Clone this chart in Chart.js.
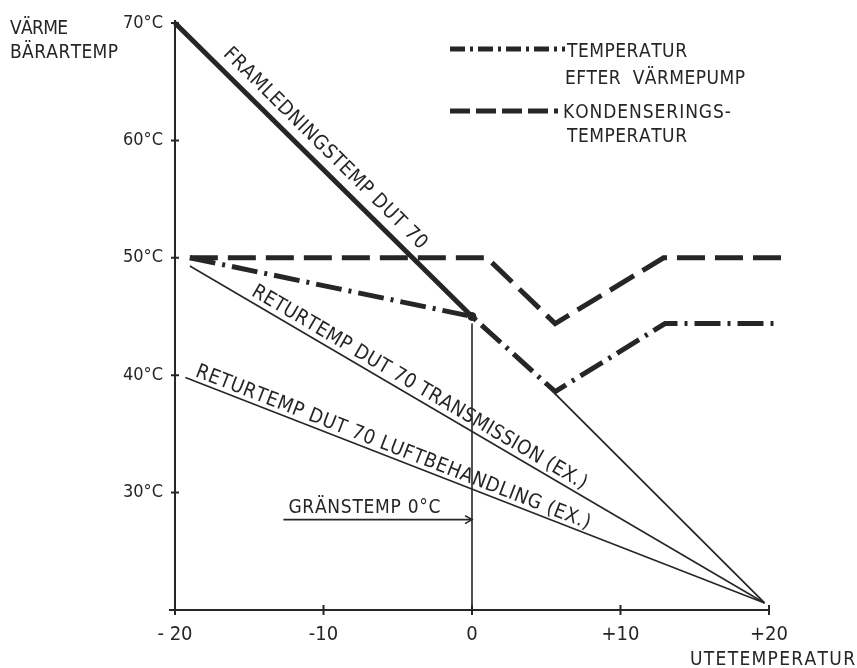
<!DOCTYPE html>
<html>
<head>
<meta charset="utf-8">
<script src="https://cdn.jsdelivr.net/npm/chart.js@4.4.1/dist/chart.umd.min.js"></script>
<style>
  html, body { margin: 0; padding: 0; background: #ffffff; }
  canvas { display: block; }
</style>
</head>
<body>
<canvas id="chart" width="857" height="668"></canvas>
<script>
const INK = '#262626';
const FONT = '"DejaVu Sans Condensed", "DejaVu Sans", sans-serif';

// Axis ticks
const outdoorTicks = [-20, -10, 0, 10, 20];
const outdoorTickLabels = ['- 20', '-10', '0', '+10', '+20'];
const heatTicks = [20, 30, 40, 50, 60, 70];
const heatTickLabels = ['', '30°C', '40°C', '50°C', '60°C', '70°C'];

// Supply temperature, DUT 70 (heavy part down to the limit temperature)
const supplyX = [-20, 0];
const supplyY = [70, 45];
const supplyTailX = [5.6, 19.7];
const supplyTailY = [38.4, 20.6];

// Return temperatures
const returnTransX = [-19, 19.7];
const returnTransY = [49.3, 20.6];
const returnAirX = [-19.3, 19.7];
const returnAirY = [39.8, 20.6];

// Temperature after heat pump (dash-dot)
const afterPumpX = [-19, 0, 5.6, 13, 20.4];
const afterPumpY = [50, 45, 38.6, 44.4, 44.4];

// Condensing temperature (dashed)
const condensX = [-19, 1, 5.6, 12.9, 21.2];
const condensY = [50, 50, 44.4, 50, 50];

// Limit temperature 0°C
const limitX = [0, 0];
const limitY = [44.4, 20];
const arrowX = [-12.7, 0];
const arrowY = [27.7, 27.7];
const junctionX = [0];
const junctionY = [45];

const pts = (xs, ys) => xs.map((x, i) => ({ x, y: ys[i] }));

function line(xs, ys, width, dash) {
  return {
    data: pts(xs, ys),
    borderColor: INK,
    borderWidth: width,
    borderDash: dash || [],
    borderCapStyle: 'butt',
    borderJoinStyle: 'miter',
    pointRadius: 0,
    tension: 0,
    fill: false,
    clip: false
  };
}

// Letter-tracked text, fitted to a given width; y is the cap-height centre
function drawTracked(ctx, text, x, y, width, size) {
  ctx.font = size + 'px ' + FONT;
  ctx.textBaseline = 'alphabetic';
  ctx.textAlign = 'left';
  const chars = Array.from(text);
  const w = chars.map(c => ctx.measureText(c).width);
  const natural = w.reduce((a, b) => a + b, 0);
  const extra = chars.length > 1 ? (width - natural) / (chars.length - 1) : 0;
  let cx = x;
  const base = y + size * 0.36;
  chars.forEach((c, i) => {
    ctx.fillText(c, cx, base);
    cx += w[i] + extra;
  });
}

// Text running along a straight line, offset to its upper side
function lineLabel(ctx, chart, xs, ys, text, startPx, endPx, offset, size) {
  const sx = chart.scales.x, sy = chart.scales.y;
  const x0 = sx.getPixelForValue(xs[0]), y0 = sy.getPixelForValue(ys[0]);
  const x1 = sx.getPixelForValue(xs[xs.length - 1]), y1 = sy.getPixelForValue(ys[ys.length - 1]);
  const ang = Math.atan2(y1 - y0, x1 - x0);
  const ux = Math.cos(ang), uy = Math.sin(ang);
  const nx = uy, ny = -ux;
  ctx.save();
  ctx.translate(x0 + ux * startPx + nx * offset, y0 + uy * startPx + ny * offset);
  ctx.rotate(ang);
  drawTracked(ctx, text, 0, 0, endPx - startPx, size);
  ctx.restore();
}

const annotations = {
  id: 'annotations',
  afterDraw(chart) {
    const ctx = chart.ctx;
    const sx = chart.scales.x, sy = chart.scales.y;
    const area = chart.chartArea;
    ctx.save();
    ctx.fillStyle = INK;
    ctx.strokeStyle = INK;

    // axis overshoot and crossing tick marks
    ctx.lineWidth = 2;
    ctx.beginPath();
    ctx.moveTo(area.left, area.top - 3);
    ctx.lineTo(area.left, area.bottom + 4);
    ctx.moveTo(area.left - 6, area.bottom);
    ctx.lineTo(area.left, area.bottom);
    heatTicks.forEach(v => {
      const p = sy.getPixelForValue(v);
      ctx.moveTo(area.left - 4, p);
      ctx.lineTo(area.left + 4, p);
    });
    outdoorTicks.forEach(v => {
      const p = sx.getPixelForValue(v);
      ctx.moveTo(p, area.bottom - 5);
      ctx.lineTo(p, area.bottom + 5);
    });
    ctx.stroke();

    // axis titles
    drawTracked(ctx, 'VÄRME', 10, 27, 58, 19);
    drawTracked(ctx, 'BÄRARTEMP', 10, 51, 108, 19);
    drawTracked(ctx, 'UTETEMPERATUR', 690, 658, 165, 19);

    // legend
    ctx.lineWidth = 5;
    ctx.setLineDash([15, 5, 3, 5]);
    ctx.beginPath();
    ctx.moveTo(450, 49); ctx.lineTo(565, 49);
    ctx.stroke();
    ctx.setLineDash([20, 6]);
    ctx.beginPath();
    ctx.moveTo(450, 111); ctx.lineTo(558, 111);
    ctx.stroke();
    ctx.setLineDash([]);
    drawTracked(ctx, 'TEMPERATUR', 567, 50, 120, 19);
    drawTracked(ctx, 'EFTER  VÄRMEPUMP', 565, 77, 180, 19);
    drawTracked(ctx, 'KONDENSERINGS-', 563, 111, 168, 19);
    drawTracked(ctx, 'TEMPERATUR', 567, 135, 120, 19);

    // labels along the lines
    lineLabel(ctx, chart, supplyX, supplyY, 'FRAMLEDNINGSTEMP DUT 70', 56, 334, 18, 20);
    lineLabel(ctx, chart, returnTransX, returnTransY, 'RETURTEMP DUT 70 TRANSMISSION (EX.)', 67, 452, 13, 20);
    lineLabel(ctx, chart, returnAirX, returnAirY, 'RETURTEMP DUT 70 LUFTBEHANDLING (EX.)', 8, 430, 12, 20);

    // limit temperature arrow
    const ax0 = sx.getPixelForValue(arrowX[0]);
    const ax1 = sx.getPixelForValue(arrowX[1]);
    const ay = sy.getPixelForValue(arrowY[0]);
    drawTracked(ctx, 'GRÄNSTEMP 0°C', ax0 + 5, ay - 13, 152, 19);
    ctx.lineWidth = 1.6;
    ctx.beginPath();
    ctx.moveTo(ax1 - 7, ay - 4);
    ctx.lineTo(ax1, ay);
    ctx.lineTo(ax1 - 7, ay + 4);
    ctx.stroke();

    ctx.restore();
  }
};

new Chart(document.getElementById('chart'), {
  type: 'line',
  data: {
    datasets: [
      line(supplyX, supplyY, 5),
      line(supplyTailX, supplyTailY, 1.8),
      line(returnTransX, returnTransY, 1.6),
      line(returnAirX, returnAirY, 1.6),
      line(afterPumpX, afterPumpY, 5, [26, 7, 3, 7]),
      line(condensX, condensY, 5, [28, 10]),
      line(limitX, limitY, 1.6),
      line(arrowX, arrowY, 1.6),
      {
        data: pts(junctionX, junctionY),
        showLine: false,
        pointRadius: 4,
        pointBackgroundColor: INK,
        pointBorderColor: INK,
        clip: false
      }
    ]
  },
  options: {
    responsive: false,
    devicePixelRatio: 1,
    animation: false,
    events: [],
    layout: { padding: { left: 0, top: 23, right: 88, bottom: 0 } },
    plugins: {
      legend: { display: false },
      tooltip: { enabled: false },
      title: { display: false }
    },
    scales: {
      x: {
        type: 'linear',
        min: -20,
        max: 20,
        afterBuildTicks: s => { s.ticks = outdoorTicks.map(v => ({ value: v })); },
        afterFit: s => { s.height = 58; },
        grid: { display: false, drawTicks: false },
        border: { display: true, color: INK, width: 2 },
        ticks: {
          autoSkip: false,
          maxRotation: 0,
          padding: 13,
          color: INK,
          font: { family: FONT, size: 20 },
          callback: v => {
            const i = outdoorTicks.indexOf(v);
            return i >= 0 ? outdoorTickLabels[i] : '';
          }
        }
      },
      y: {
        type: 'linear',
        min: 20,
        max: 70,
        afterBuildTicks: s => { s.ticks = heatTicks.map(v => ({ value: v })); },
        afterFit: s => { s.width = 175; },
        grid: { display: false, drawTicks: false },
        border: { display: true, color: INK, width: 2 },
        ticks: {
          autoSkip: false,
          padding: 12,
          color: INK,
          font: { family: FONT, size: 18 },
          callback: v => {
            const i = heatTicks.indexOf(v);
            return i >= 0 ? heatTickLabels[i] : '';
          }
        }
      }
    }
  },
  plugins: [annotations]
});
</script>
</body>
</html>
